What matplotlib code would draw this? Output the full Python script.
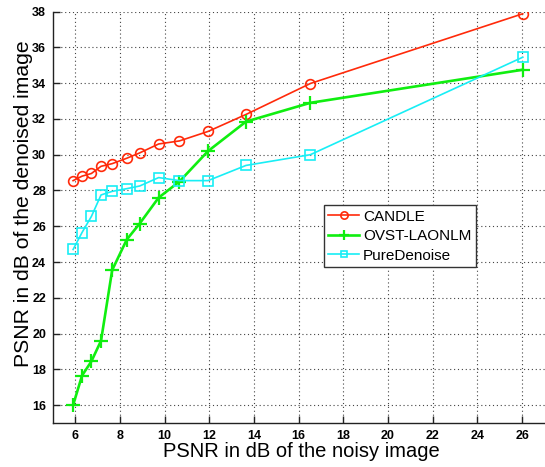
import matplotlib
matplotlib.use("Agg")
import matplotlib.pyplot as plt

noisy_psnr = [5.9, 6.3, 6.72, 7.15, 7.65, 8.3, 8.88, 9.73, 10.66, 11.94, 13.64, 16.52, 26.03]
candle = [28.55, 28.8, 28.95, 29.35, 29.5, 29.8, 30.1, 30.6, 30.77, 31.3, 32.25, 33.98, 37.88]
ovst_laonlm = [16.0, 17.65, 18.45, 19.6, 23.55, 25.25, 26.15, 27.6, 28.5, 30.2, 31.85, 32.9, 34.75]
pure_denoise = [24.7, 25.65, 26.55, 27.75, 27.95, 28.1, 28.25, 28.72, 28.55, 28.55, 29.4, 30.0, 35.45]
series_names = ["CANDLE", "OVST-LAONLM", "PureDenoise"]
x_ticks = [6, 8, 10, 12, 14, 16, 18, 20, 22, 24, 26]
y_ticks = [16, 18, 20, 22, 24, 26, 28, 30, 32, 34, 36, 38]

plt.rcParams['font.family'] = ['Liberation Sans', 'DejaVu Sans']

W, H = 545, 467
fig = plt.figure(figsize=(W / 100, H / 100), dpi=100)
ax = fig.add_axes([53 / W, (H - 423) / H, 497 / W, 411.4 / H])

ax.plot(noisy_psnr, candle, color='#ff2a0a', lw=1.2, marker='o', ms=7,
        mfc='none', mew=1.2, label=series_names[0], zorder=3)
ax.plot(noisy_psnr, ovst_laonlm, color='#10ee10', lw=1.9, marker='+', ms=10,
        mew=1.6, label=series_names[1], zorder=3)
ax.plot(noisy_psnr, pure_denoise, color='#18eef5', lw=1.2, marker='s', ms=6.5,
        mfc='none', mew=1.2, label=series_names[2], zorder=3)

ax.set_xlim(5, 27.25)
ax.set_ylim(15, 38)
ax.set_xticks(x_ticks)
ax.set_yticks(y_ticks)
ax.grid(True, linestyle=(0, (1, 2.5)), color='#444444', lw=0.8)
ax.set_axisbelow(True)

for s in ['top', 'right']:
    ax.spines[s].set_visible(False)
for s in ['left', 'bottom']:
    ax.spines[s].set_linewidth(1.0)
    ax.spines[s].set_color('#222222')

ax.tick_params(direction='in', length=5, width=1.0, color='#222222',
               labelsize=9, pad=5)
for lbl in ax.get_xticklabels() + ax.get_yticklabels():
    lbl.set_fontweight('bold')

ax.set_xlabel("PSNR in dB of the noisy image", fontsize=14.5, labelpad=0)
ax.set_ylabel("PSNR in dB of the denoised image", fontsize=15.2, labelpad=4)
ax.yaxis.set_label_coords(-0.041, 0.534)

leg = ax.legend(loc='upper left', bbox_to_anchor=(0.545, 0.53), fontsize=11,
                frameon=True, fancybox=False, shadow=False, borderpad=0.3,
                handlelength=2.0, handletextpad=0.25, labelspacing=0.37,
                borderaxespad=0, markerscale=0.75)
leg.get_frame().set_edgecolor('#333333')
leg.get_frame().set_linewidth(1.0)
leg.get_frame().set_alpha(1)

fig.savefig("out.png", dpi=100)
